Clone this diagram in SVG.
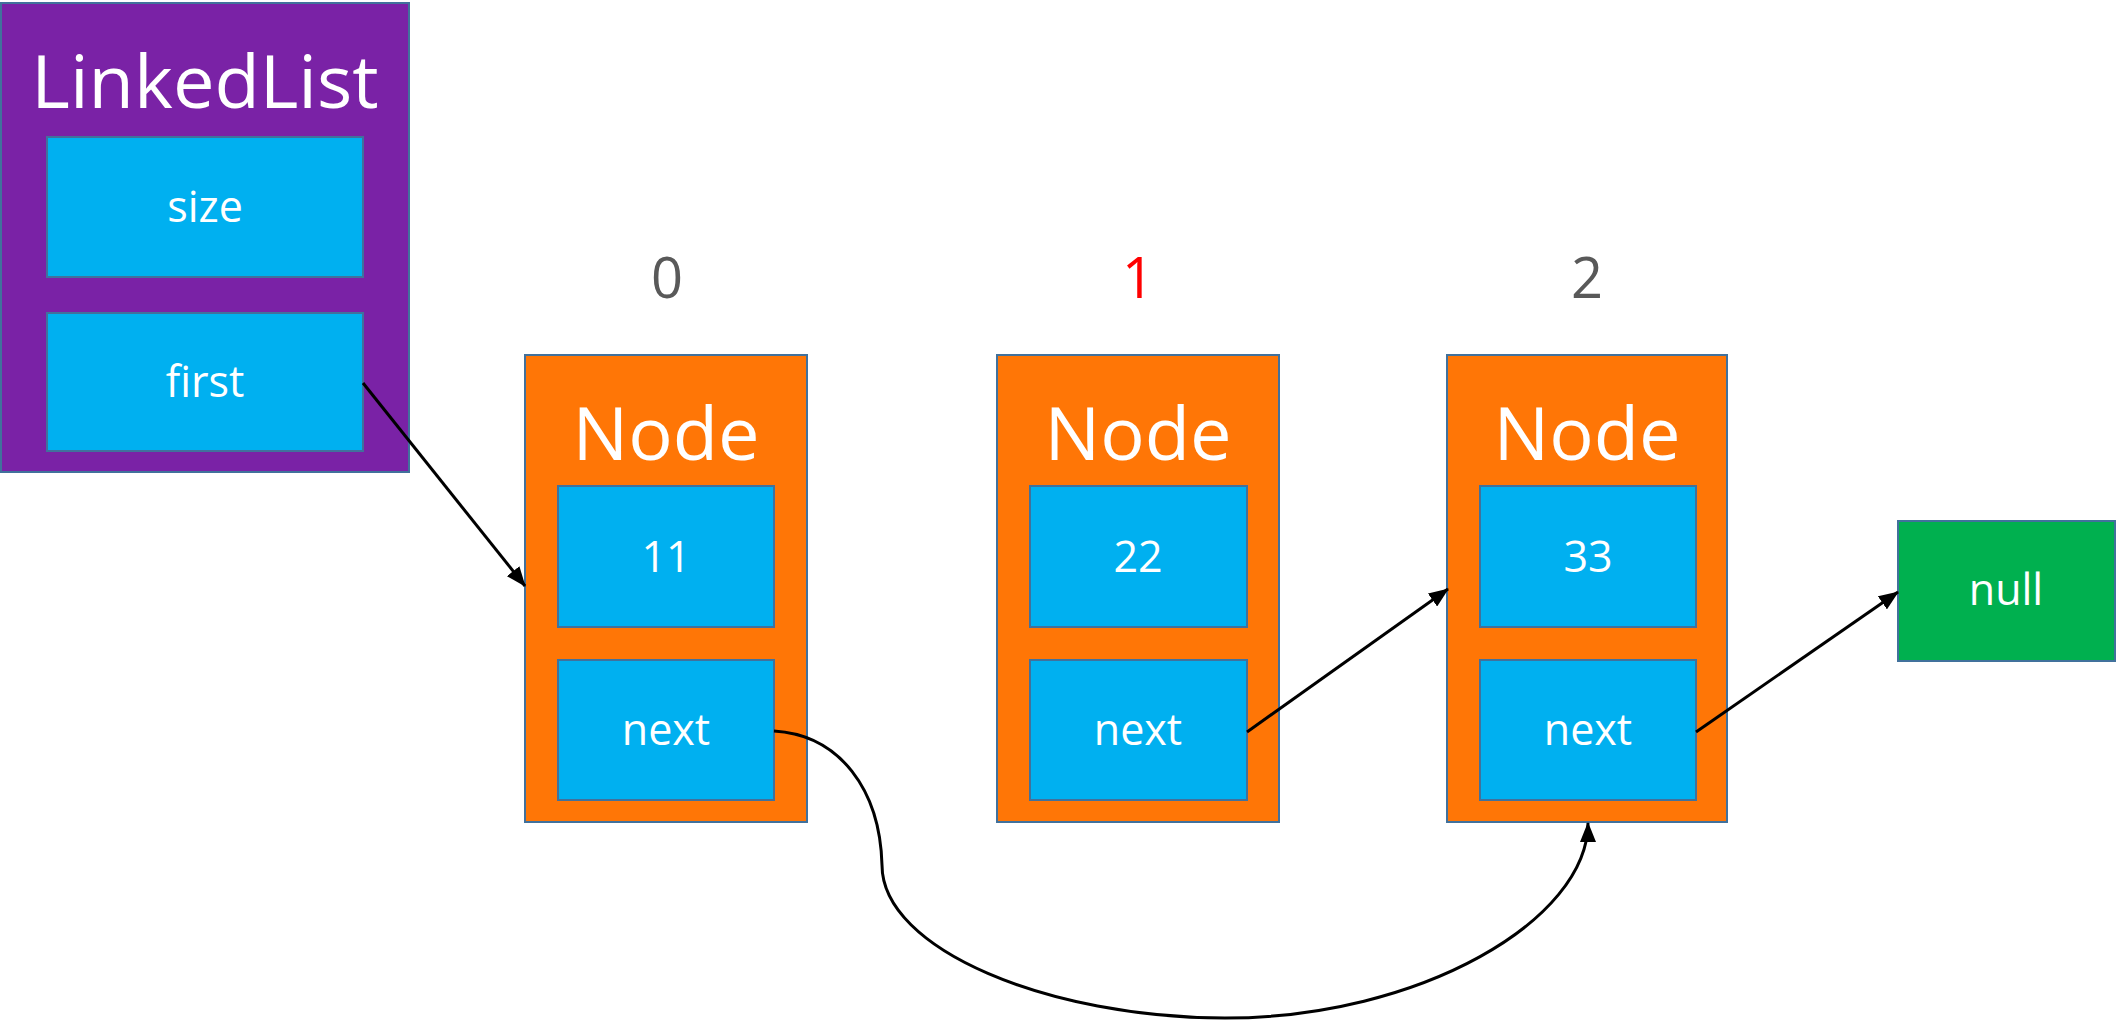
<svg xmlns="http://www.w3.org/2000/svg" width="2122" height="1026" viewBox="0 0 2122 1026">
<defs>
<style>
.box{stroke:#41719C;stroke-width:2}
.purple{fill:#7A22A6}
.orange{fill:#FF7606}
.blue{fill:#00B0F0}
.green{fill:#00B04F}
text{font-family:"Open Sans","Noto Sans","DejaVu Sans",sans-serif;text-anchor:middle}
.title{fill:#FFFFFF;font-size:74px}
.field{fill:#FFFFFF;font-size:43px}
.idx{fill:#595959;font-size:56px}
.conn{fill:none;stroke:#000000;stroke-width:3}
</style>
<marker id="arrow" markerUnits="userSpaceOnUse" markerWidth="20" markerHeight="16" viewBox="0 0 20 16" refX="19" refY="8" orient="auto">
<path d="M0,0 L20,8 L0,16 Z" fill="#000000"/>
</marker>
</defs>
<rect width="2122" height="1026" fill="#FFFFFF"/>

<g id="linkedlist">
<rect class="box purple" x="1" y="3" width="408" height="469"/>
<text class="title" x="205" y="108">LinkedList</text>
<g id="ll-size">
<rect class="box blue" x="47" y="137" width="316" height="140"/>
<text class="field" x="205" y="222">size</text>
</g>
<g id="ll-first">
<rect class="box blue" x="47" y="313" width="316" height="138"/>
<text class="field" x="205" y="397">first</text>
</g>
</g>

<g id="index-0"><text class="idx" x="667" y="298">0</text></g>
<g id="index-1"><text class="idx" x="1138" y="298" style="fill:#FF0000">1</text></g>
<g id="index-2"><text class="idx" x="1587" y="298">2</text></g>

<g id="node0">
<rect class="box orange" x="525" y="355" width="282" height="467"/>
<text class="title" x="666" y="460">Node</text>
<rect class="box blue" x="558" y="486" width="216" height="141"/>
<text class="field" x="666" y="572">11</text>
<rect class="box blue" x="558" y="660" width="216" height="140"/>
<text class="field" x="666" y="745">next</text>
</g>

<g id="node1">
<rect class="box orange" x="997" y="355" width="282" height="467"/>
<text class="title" x="1138" y="460">Node</text>
<rect class="box blue" x="1030" y="486" width="217" height="141"/>
<text class="field" x="1138" y="572">22</text>
<rect class="box blue" x="1030" y="660" width="217" height="140"/>
<text class="field" x="1138" y="745">next</text>
</g>

<g id="node2">
<rect class="box orange" x="1447" y="355" width="280" height="467"/>
<text class="title" x="1587" y="460">Node</text>
<rect class="box blue" x="1480" y="486" width="216" height="141"/>
<text class="field" x="1588" y="572">33</text>
<rect class="box blue" x="1480" y="660" width="216" height="140"/>
<text class="field" x="1588" y="745">next</text>
</g>

<g id="null">
<rect class="box green" x="1898" y="521" width="217" height="140"/>
<text class="field" x="2006" y="605">null</text>
</g>

<g id="connectors">
<line class="conn" x1="363" y1="383" x2="525" y2="586" marker-end="url(#arrow)"/>
<line class="conn" x1="1247" y1="732" x2="1448" y2="589" marker-end="url(#arrow)"/>
<line class="conn" x1="1696" y1="732" x2="1898" y2="592" marker-end="url(#arrow)"/>
<path class="conn" d="M774,731 C840,735 880,790 882,865 C882,950 1050,1018 1225,1018 C1420,1018 1588,920 1588,823" marker-end="url(#arrow)"/>
</g>
</svg>
